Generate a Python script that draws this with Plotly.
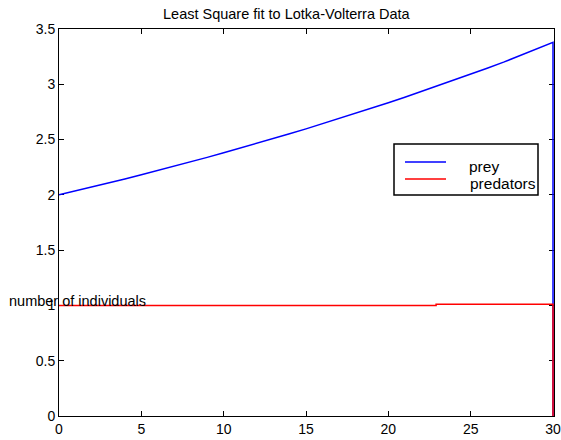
import plotly.graph_objects as go

# ---- data ----
t_prey = list(range(31)) + [30]
prey = [2.000, 2.035, 2.071, 2.107, 2.144, 2.182, 2.220, 2.259, 2.299, 2.339,
        2.380, 2.422, 2.465, 2.508, 2.552, 2.597, 2.643, 2.689, 2.736, 2.784,
        2.833, 2.883, 2.934, 2.985, 3.037, 3.091, 3.145, 3.200, 3.258, 3.318,
        3.380, 0.0]
t_pred = [0, 22.9, 22.9, 30, 30]
predators = [1.000, 1.000, 1.011, 1.011, 0.0]

x_ticks = [0, 5, 10, 15, 20, 25, 30]
y_ticks = [0, 0.5, 1, 1.5, 2, 2.5, 3, 3.5]
y_tick_labels = ["0", "0.5", "1", "1.5", "2", "2.5", "3", "3.5"]

title_text = "Least Square fit to Lotka-Volterra Data"
ylabel_text = "number of individuals"
legend_names = ["prey", "predators"]
colors = ["#0000ff", "#ff0000"]

W, H = 561, 440
ML, MR, MT, MB = 59, 7, 29, 24
PW, PH = W - ML - MR, H - MT - MB
FONT = "Liberation Sans, Arial, sans-serif"


def px(xp):
    return (xp - ML) / PW


def py(yp):
    return (H - MB - yp) / PH


fig = go.Figure()
fig.add_trace(go.Scatter(x=t_prey, y=prey, mode="lines",
                         line=dict(color=colors[0], width=1.5),
                         name=legend_names[0], showlegend=False))
fig.add_trace(go.Scatter(x=t_pred, y=predators, mode="lines",
                         line=dict(color=colors[1], width=1.5),
                         name=legend_names[1], showlegend=False))

axis_common = dict(showgrid=False, zeroline=False, showline=True,
                   linecolor="black", linewidth=1, mirror="ticks",
                   ticks="inside", ticklen=5, tickcolor="black",
                   automargin=False, layer="below traces",
                   ticklabeloverflow="allow",
                   tickfont=dict(family=FONT, size=14, color="black"))

fig.update_xaxes(range=[0, 30.06], tickvals=x_ticks, ticktext=[str(v) for v in x_ticks],
                 **axis_common)
fig.update_yaxes(range=[0, 3.5], tickvals=y_ticks, ticktext=y_tick_labels,
                 **axis_common)

shapes = [
    dict(type="rect", xref="paper", yref="paper",
         x0=px(394), x1=px(538), y0=py(195), y1=py(144),
         line=dict(color="black", width=1.5), fillcolor="white", layer="above"),
    dict(type="line", xref="paper", yref="paper",
         x0=px(405), x1=px(446), y0=py(162), y1=py(162),
         line=dict(color=colors[0], width=1.5), layer="above"),
    dict(type="line", xref="paper", yref="paper",
         x0=px(405), x1=px(446), y0=py(179), y1=py(179),
         line=dict(color=colors[1], width=1.5), layer="above"),
]

annotations = [
    dict(text=legend_names[0], xref="paper", yref="paper", x=px(468), y=py(166),
         xanchor="left", yanchor="middle", showarrow=False, borderpad=0,
         font=dict(family=FONT, size=15.5, color="black")),
    dict(text=legend_names[1], xref="paper", yref="paper", x=px(469), y=py(183),
         xanchor="left", yanchor="middle", showarrow=False, borderpad=0,
         font=dict(family=FONT, size=15.5, color="black")),
    dict(text=ylabel_text, xref="paper", yref="paper", x=px(8), y=py(301),
         xanchor="left", yanchor="middle", showarrow=False, borderpad=0,
         font=dict(family=FONT, size=14.5, color="black")),
    dict(text=title_text, xref="paper", yref="paper", x=px(287), y=py(13.5),
         xanchor="center", yanchor="middle", showarrow=False, borderpad=0,
         font=dict(family=FONT, size=14.5, color="black")),
]

fig.update_layout(width=W, height=H, margin=dict(l=ML, r=MR, t=MT, b=MB),
                  paper_bgcolor="white", plot_bgcolor="white",
                  shapes=shapes, annotations=annotations, showlegend=False)

fig.write_html("out.html",
               config={"displayModeBar": False},
               post_script="document.body.style.margin='0';"
                           "document.body.style.padding='0';"
                           "document.body.style.overflow='hidden';")
